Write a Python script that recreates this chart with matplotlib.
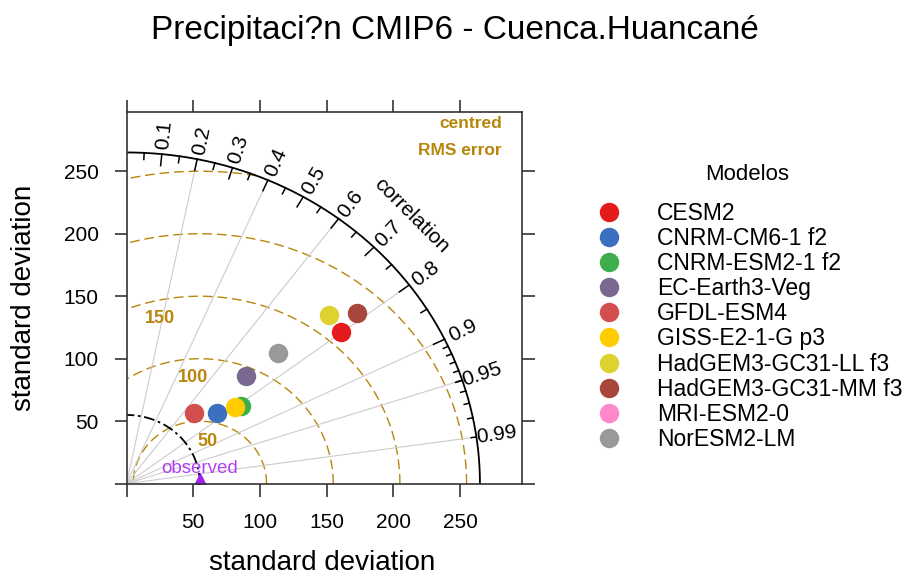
import numpy as np
import matplotlib.pyplot as plt
from matplotlib.lines import Line2D

plt.rcParams['font.family'] = ['Liberation Sans', 'DejaVu Sans']

# datos del diagrama de Taylor
models = ['CESM2', 'CNRM-CM6-1 f2', 'CNRM-ESM2-1 f2', 'EC-Earth3-Veg', 'GFDL-ESM4',
          'GISS-E2-1-G p3', 'HadGEM3-GC31-LL f3', 'HadGEM3-GC31-MM f3', 'MRI-ESM2-0',
          'NorESM2-LM']
model_sd = [201.6, 88.5, 106.3, 124.3, 75.7, 101.6, 203.2, 220.4, np.nan, 154.2]
model_cor = [0.799, 0.768, 0.810, 0.720, 0.664, 0.799, 0.746, 0.785, np.nan, 0.737]
model_colors = ['#E41A1C', '#3B6FC0', '#3DAE4B', '#7A6890', '#D34E4E',
                '#FFCC00', '#DDD230', '#A8463C', '#FF88CC', '#999999']

obs_sd = 55
max_sd = 265
rms_levels = [50, 100, 150, 200, 250]
cor_grid = [0.2, 0.4, 0.6, 0.8, 0.9, 0.95, 0.99]
cor_labels = [0.1, 0.2, 0.3, 0.4, 0.5, 0.6, 0.7, 0.8, 0.9, 0.95, 0.99]

gold = '#B8860B'
W, H = 907, 581

fig = plt.figure(figsize=(W / 100, H / 100), dpi=100)
ax = fig.add_axes([126.5 / W, 1 - 483.7 / H, (521.7 - 126.5) / W, (483.7 - 111.7) / H])
ax.set_xlim(0, 296.3)
ax.set_ylim(0, 297.6)

# circulos RMS centrados en la observacion
t = np.linspace(0, np.pi, 600)
for r in rms_levels:
    x = obs_sd + r * np.cos(t)
    y = r * np.sin(t)
    ok = (x >= 0) & (np.hypot(x, y) <= max_sd)
    x = np.where(ok, x, np.nan)
    ax.plot(x, y, color=gold, lw=1.0, dashes=(7, 3.5))

# lineas de correlacion
for c in cor_grid:
    a = np.arccos(c)
    ax.plot([0, max_sd * np.cos(a)], [0, max_sd * np.sin(a)], color='#CCCCCC', lw=0.8)

# arco exterior y arco de la observacion
a = np.linspace(0, np.pi / 2, 300)
ax.plot(max_sd * np.cos(a), max_sd * np.sin(a), color='black', lw=1.3)
ax.plot(obs_sd * np.cos(a), obs_sd * np.sin(a), color='black', lw=1.3, dashes=(6, 2, 1.5, 2))

# marcas del arco exterior
ticks = [(np.arange(0.1, 0.91, 0.1), 0.965),
         (np.arange(0.05, 0.96, 0.1), 0.98),
         (np.arange(0.91, 0.995, 0.01), 0.985)]
for vals, f in ticks:
    for v in vals:
        a = np.arccos(v)
        ax.plot([max_sd * np.cos(a), f * max_sd * np.cos(a)],
                [max_sd * np.sin(a), f * max_sd * np.sin(a)], color='black', lw=1.1)

for v in cor_labels:
    a = np.arccos(v)
    ax.text(1.057 * max_sd * np.cos(a), 1.057 * max_sd * np.sin(a), f'{v:g}',
            rotation=np.degrees(a), rotation_mode='anchor', ha='center', va='center',
            fontsize=15)
ax.text(213.8, 214.7, 'correlation', rotation=-45, rotation_mode='anchor',
        ha='center', va='center', fontsize=15)

# etiquetas RMS
ax.text(25, 132.2, '150', color=gold, fontsize=13, fontweight='bold', ha='center', va='center')
ax.text(50, 85.2, '100', color=gold, fontsize=13, fontweight='bold', ha='center', va='center')
ax.text(60.5, 33.8, '50', color=gold, fontsize=13, fontweight='bold', ha='center', va='center')
ax.text(281.3, 287.9, 'centred', color=gold, fontsize=12.5, fontweight='bold', ha='right', va='center')
ax.text(281.3, 266.6, 'RMS error', color=gold, fontsize=12.5, fontweight='bold', ha='right', va='center')

# observacion
ax.plot([obs_sd], [0], marker='^', ms=17, color='#A020F0', mec='none', clip_on=True)
ax.text(obs_sd, 12.5, 'observed', color='#B040F0', fontsize=13.5, ha='center', va='center')

# modelos
sd = np.array(model_sd)
cr = np.array(model_cor)
xs = sd * cr
ys = sd * np.sqrt(1 - cr ** 2)
for i in range(len(models)):
    ax.plot(xs[i], ys[i], 'o', ms=14, color=model_colors[i], mec='none')

# ejes
ax.set_xticks([0, 50, 100, 150, 200, 250])
ax.set_xticklabels(['', '50', '100', '150', '200', '250'])
ax.set_yticks([0, 50, 100, 150, 200, 250])
ax.set_yticklabels(['', '50', '100', '150', '200', '250'])
ax.tick_params(direction='out', length=9, width=1.2, labelsize=15, color='#333333',
               top=True, right=True, labeltop=False, labelright=False)
ax.tick_params(axis='x', pad=12)
ax.tick_params(axis='y', pad=11)
for s in ax.spines.values():
    s.set_linewidth(1.2)
    s.set_color('#333333')

fig.text(322.5 / W, 1 - 563 / H, 'standard deviation', fontsize=20, ha='center', va='center')
fig.text(24 / W, 1 - 297.5 / H, 'standard deviation', fontsize=20, ha='center', va='center',
         rotation=90)
fig.text(455 / W, 1 - 31 / H, 'Precipitaci?n CMIP6 - Cuenca.Huancané', fontsize=24,
         ha='center', va='center')

# leyenda
fig.text(746.7 / W, 1 - 175 / H, 'Modelos', fontsize=16, ha='center', va='center')
for i, name in enumerate(models):
    yy = 1 - (211.7 + i * 25.15) / H
    fig.add_artist(Line2D([609 / W], [yy], marker='o', ms=14, color=model_colors[i],
                          mec='none', transform=fig.transFigure))
    fig.text(657 / W, yy - 1.5 / H, name, fontsize=16.5, ha='left', va='center')

fig.savefig('out.png', dpi=100)
